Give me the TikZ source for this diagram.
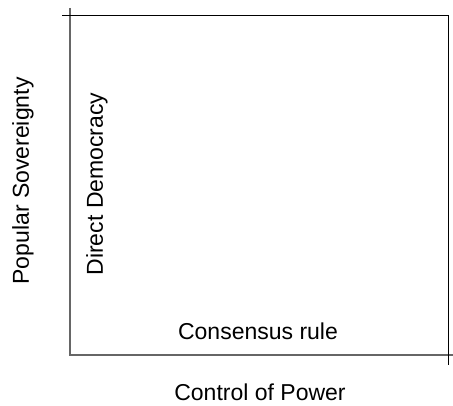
\documentclass[tikz,border=0pt]{standalone}
\usepackage{fontspec}
\setmainfont{Liberation Sans}
\usepackage{tikz}

\begin{document}
\begin{tikzpicture}[x=1pt,y=1pt,
    axisline/.style={line width=1.6pt, gray!80!black},
    frameline/.style={line width=1pt, black},
    label/.style={font=\fontsize{23}{27}\selectfont, inner sep=0pt}]
    % Picture size
    \useasboundingbox (0,0) rectangle (453,405);

    % Corner points of the chart
    \coordinate (origin) at (70,50);
    \coordinate (ytop) at (70,397);
    \coordinate (xend) at (453,50);
    \coordinate (tl) at (62,389);
    \coordinate (tr) at (448,389);
    \coordinate (br) at (448,40);

    % Axes in gray
    \draw[axisline] (ytop) -- (origin) -- (xend);

    % Frame top and right in black
    \draw[frameline] (tl) -- (tr) -- (br);

    % Axis titles
    \node[label, rotate=90] (ytitle) at (23,224) {Popular Sovereignty};
    \node[label] (xtitle) at (260,13) {Control of Power};

    % Labels inside the chart
    \node[label, rotate=90] (direct) at (97,221) {Direct Democracy};
    \node[label] (consensus) at (258,74) {Consensus rule};
\end{tikzpicture}
\end{document}
